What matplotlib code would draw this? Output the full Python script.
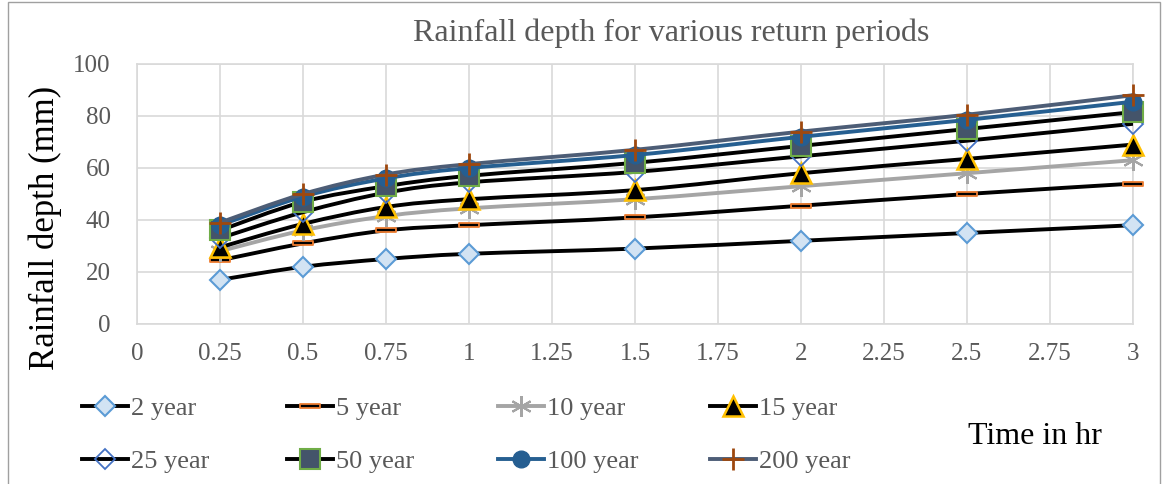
import numpy as np
import matplotlib
matplotlib.use("Agg")
import matplotlib.pyplot as plt
from matplotlib.path import Path
from matplotlib.patches import PathPatch, Rectangle
from matplotlib.lines import Line2D

plt.rcParams["font.family"] = ["Liberation Serif", "DejaVu Serif"]

# ---- data -------------------------------------------------------------
time_hr = [0.25, 0.5, 0.75, 1.0, 1.5, 2.0, 2.5, 3.0]
series_labels = ["2 year", "5 year", "10 year", "15 year",
                 "25 year", "50 year", "100 year", "200 year"]
depth_2yr = [17, 22, 25, 27, 29, 32, 35, 38]
depth_5yr = [24.5, 31, 36, 38, 41, 45.5, 50, 54]
depth_10yr = [28, 36, 41.5, 44.5, 48, 53, 58, 63]
depth_15yr = [29.5, 38.5, 45, 48, 51.5, 58, 63.5, 69]
depth_25yr = [33, 43, 50.5, 54.5, 58.5, 64.5, 70.5, 77]
depth_50yr = [36, 47, 53, 57, 62, 68.5, 75, 81.5]
depth_100yr = [38, 49, 56, 60, 65, 72, 78.5, 85.5]
depth_200yr = [39, 50, 57.5, 61.5, 67, 74, 80.5, 88]
x_ticks = [0, 0.25, 0.5, 0.75, 1, 1.25, 1.5, 1.75, 2, 2.25, 2.5, 2.75, 3]
x_tick_labels = ["0", "0.25", "0.5", "0.75", "1", "1.25", "1.5", "1.75",
                 "2", "2.25", "2.5", "2.75", "3"]
y_ticks = [0, 20, 40, 60, 80, 100]

all_depths = [depth_2yr, depth_5yr, depth_10yr, depth_15yr,
              depth_25yr, depth_50yr, depth_100yr, depth_200yr]

# ---- styles -----------------------------------------------------------
dash_marker = Path([(-1, -0.16), (1, -0.16), (1, 0.16), (-1, 0.16), (-1, -0.16)],
                   [Path.MOVETO, Path.LINETO, Path.LINETO, Path.LINETO, Path.CLOSEPOLY])
styles = [
    dict(color="black", lw=2.8, marker="D", ms=10.5, mfc="#D2E3F3", mec="#5B9BD5", mew=1.5),
    dict(color="black", lw=2.8, marker=dash_marker, ms=15, mfc="black", mec="#ED7D31", mew=1.3),
    dict(color="#A5A5A5", lw=2.8, marker=(6, 2, 0), ms=15, mfc="#A5A5A5", mec="#A5A5A5", mew=1.5),
    dict(color="black", lw=2.8, marker="^", ms=14, mfc="black", mec="#FFC000", mew=1.8),
    dict(color="black", lw=2.8, marker="D", ms=10.5, mfc="none", mec="#4472C4", mew=1.3),
    dict(color="black", lw=2.8, marker="s", ms=14.5, mfc="#44546A", mec="#70AD47", mew=1.5),
    dict(color="#265F91", lw=2.8, marker="o", ms=12, mfc="#255E91", mec="#255E91", mew=1.0),
    dict(color="#4D5D76", lw=2.8, marker="+", ms=16, mfc="#9E480E", mec="#9E480E", mew=2.0),
]


def smooth_path(x, y):
    """Cubic Bezier path through the points (spreadsheet-style smoothed line)."""
    pts = np.column_stack([x, y]).astype(float)
    n = len(pts)
    verts = [pts[0]]
    codes = [Path.MOVETO]
    for i in range(n - 1):
        p0 = pts[i - 1] if i > 0 else pts[i]
        p1 = pts[i]
        p2 = pts[i + 1]
        p3 = pts[i + 2] if i + 2 < n else pts[i + 1]
        verts += [p1 + (p2 - p0) / 6.0, p2 - (p3 - p1) / 6.0, p2]
        codes += [Path.CURVE4] * 3
    return Path(verts, codes)


W, H = 1167, 484
fig = plt.figure(figsize=(W / 100, H / 100), dpi=100)

# chart-area border
fig.patches.append(Rectangle((8 / W, -0.05), (1160 - 8) / W, 1.05 - 2 / H,
                             transform=fig.transFigure, fill=False,
                             edgecolor="#A0A0A0", lw=1.0))

ax = fig.add_axes([137 / W, (H - 324) / H, (1133 - 137) / W, (324 - 64) / H])
ax.set_xlim(0, 3)
ax.set_ylim(0, 100)
ax.set_xticks(x_ticks)
ax.set_xticklabels(x_tick_labels)
ax.set_yticks(y_ticks)
ax.grid(True, color="#D9D9D9", lw=1.2)
ax.set_axisbelow(True)
for sp in ax.spines.values():
    sp.set_color("#D9D9D9")
    sp.set_linewidth(1.2)
ax.tick_params(length=0, labelsize=18, labelcolor="#595959")
ax.tick_params(axis="y", pad=19)
ax.tick_params(axis="x", pad=14)

handles = []
for i, (vals, st, lab) in enumerate(zip(all_depths, styles, series_labels)):
    z = 3 + i * 0.1
    ax.add_patch(PathPatch(smooth_path(time_hr, vals), fill=False,
                           edgecolor=st["color"], lw=st["lw"], zorder=z,
                           capstyle="round", joinstyle="round"))
    ax.plot(time_hr, vals, linestyle="none", marker=st["marker"], ms=st["ms"],
            mfc=st["mfc"], mec=st["mec"], mew=st["mew"], zorder=z + 0.05,
            clip_on=False)
    handles.append(Line2D([], [], color=st["color"], lw=st["lw"], marker=st["marker"],
                          ms=st["ms"], mfc=st["mfc"], mec=st["mec"], mew=st["mew"],
                          label=lab))

fig.text(671 / W, 1 - 33 / H, "Rainfall depth for various return periods",
         ha="center", va="center", fontsize=23, color="#595959")
fig.text(45 / W, 1 - 228 / H, "Rainfall depth (mm)", rotation=90,
         ha="center", va="center", fontsize=25, color="black")
fig.text(1035 / W, 1 - 436 / H, "Time in hr", ha="center", va="center",
         fontsize=23, color="black")

# legend: four columns, two rows
col_x = [82, 287, 498, 710]
row_y = [408, 461]
for k, h in enumerate(handles):
    cx = col_x[k % 4]
    cy = row_y[k // 4]
    fig.legend(handles=[h], loc="center left",
               bbox_to_anchor=(cx / W, 1 - cy / H),
               frameon=False, borderpad=0, borderaxespad=0,
               handlelength=1.75, handletextpad=0.12, numpoints=1,
               fontsize=19, labelcolor="#595959")

fig.savefig("out.png", dpi=100)
